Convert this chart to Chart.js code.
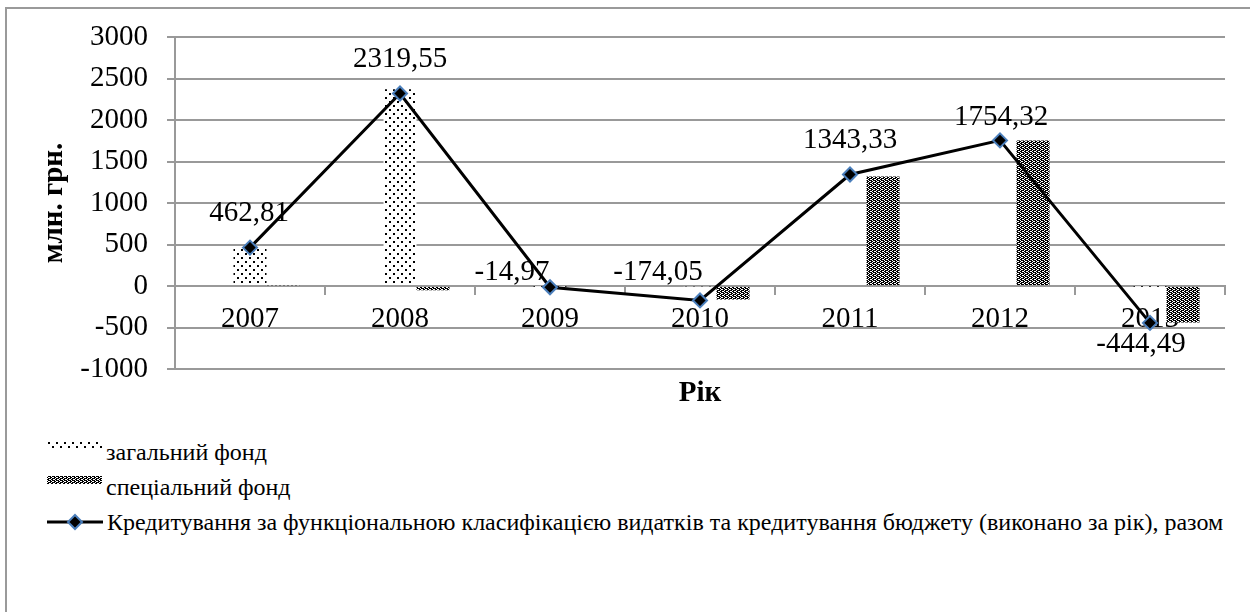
<!DOCTYPE html>
<html>
<head>
<meta charset="utf-8">
<script src="https://cdn.jsdelivr.net/npm/chart.js@4.4.1/dist/chart.umd.min.js"></script>
<style>
    html, body { margin: 0; padding: 0; background: #fff; }
    body { width: 1250px; height: 612px; position: relative; overflow: hidden; font-family: "Liberation Serif", "Times New Roman", "DejaVu Serif", serif; }
    #frame { position: absolute; left: 5px; top: 7px; width: 1300px; height: 700px; border-left: 2px solid #9a9a9a; border-top: 2px solid #9a9a9a; }
    #chartBox { position: absolute; left: 0; top: 0; width: 1250px; height: 410px; }
    .item { position: absolute; left: 47px; height: 30px; display: flex; align-items: center; font-size: 24px; color: #000; white-space: nowrap; }
    .item canvas { margin-right: 4px; }
</style>
</head>
<body>
<div id="frame"></div>
<div id="chartBox"><canvas id="fundChart" width="1250" height="410"></canvas></div>
<div id="legend"></div>

<script>
// data
const years = ["2007", "2008", "2009", "2010", "2011", "2012", "2013"];
const generalFund = [455, 2370, -2, -10, 24, 0, -3];
const specialFund = [8, -50, -13, -164, 1319, 1754, -441];
const totalFund = [462.81, 2319.55, -14.97, -174.05, 1343.33, 1754.32, -444.49];
const seriesNames = [
    "загальний фонд",
    "спеціальний фонд",
    "Кредитування за функціональною класифікацією видатків та кредитування бюджету (виконано за рік), разом"
];
const yMin = -1000;
const yMax = 3000;
const yStep = 500;

// where the value labels sit relative to their marker (dx, dy)
const labelShift = [[-1, -34], [0, -34], [-38, -15], [-42, -28], [0, -34], [1, -23], [-9, 21]];

const serif = "'Liberation Serif', 'Times New Roman', 'DejaVu Serif', serif";
const gridGray = "#999999";
const markerBlue = "#4a7ebb";

function makePattern(kind) {
    const tile = document.createElement("canvas");
    const c = tile.getContext("2d");
    if (kind === "dots") {
        tile.width = 8; tile.height = 8;
        c.fillStyle = "#fff"; c.fillRect(0, 0, 8, 8);
        c.fillStyle = "#000";
        c.fillRect(1, 1, 2, 2);
        c.fillRect(5, 5, 2, 2);
    } else {
        tile.width = 4; tile.height = 4;
        c.fillStyle = "#000"; c.fillRect(0, 0, 4, 4);
        c.fillStyle = "#fff";
        c.fillRect(0, 0, 1, 1);
        c.fillRect(2, 1, 1, 1);
        c.fillRect(0, 2, 1, 1);
        c.fillRect(2, 3, 1, 1);
        c.fillRect(1, 1, 1, 1);
        c.fillRect(3, 3, 1, 1);
    }
    return c.createPattern(tile, "repeat");
}

const dotsFill = makePattern("dots");
const weaveFill = makePattern("weave");

function fmt(v) {
    return v.toFixed(2).replace(".", ",");
}

const totalLabels = {
    id: "totalLabels",
    afterDatasetsDraw(chart) {
        const meta = chart.getDatasetMeta(3);
        const ctx = chart.ctx;
        ctx.save();
        ctx.font = "29px " + serif;
        ctx.fillStyle = "#000";
        ctx.textAlign = "center";
        ctx.textBaseline = "middle";
        meta.data.forEach((pt, i) => {
            ctx.fillText(fmt(totalFund[i]), pt.x + labelShift[i][0], pt.y + labelShift[i][1]);
        });
        ctx.restore();
    }
};

const ctx = document.getElementById("fundChart").getContext("2d");
new Chart(ctx, {
    type: "bar",
    data: {
        labels: years,
        datasets: [
            // empty slot so the general fund bar sits on the category centre
            { data: years.map(() => null), order: 1, categoryPercentage: 0.66, barPercentage: 1 },
            { label: seriesNames[0], data: generalFund, backgroundColor: dotsFill, order: 1, categoryPercentage: 0.66, barPercentage: 1 },
            { label: seriesNames[1], data: specialFund, backgroundColor: weaveFill, order: 1, categoryPercentage: 0.66, barPercentage: 1 },
            {
                type: "line",
                label: seriesNames[2],
                data: totalFund,
                order: 0,
                borderColor: "#000",
                borderWidth: 3,
                pointStyle: "rectRot",
                pointRadius: 7,
                pointBackgroundColor: "#000",
                pointBorderColor: markerBlue,
                pointBorderWidth: 2,
                tension: 0
            }
        ]
    },
    options: {
        responsive: false,
        animation: false,
        devicePixelRatio: 1,
        layout: { padding: { top: 37, right: 25, bottom: 41, left: 0 } },
        plugins: {
            legend: { display: false },
            tooltip: { enabled: false }
        },
        scales: {
            x: {
                position: { y: 0 },
                grid: { drawOnChartArea: false, drawTicks: true, tickLength: 8, color: gridGray, lineWidth: 2, offset: true },
                border: { display: true, color: gridGray, width: 2 },
                ticks: { color: "#000", padding: 8, font: { family: serif, size: 29 } },
                title: {
                    display: true,
                    text: "Рік",
                    color: "#000",
                    padding: { top: 31, bottom: 0 },
                    font: { family: serif, size: 29, weight: "bold" }
                }
            },
            y: {
                min: yMin,
                max: yMax,
                grid: { color: gridGray, lineWidth: 2, tickLength: 8 },
                border: { display: true, color: gridGray, width: 2 },
                ticks: {
                    stepSize: yStep,
                    color: "#000",
                    padding: 19,
                    font: { family: serif, size: 29 },
                    callback: function (value) { return String(value); }
                },
                title: {
                    display: true,
                    text: "млн. грн.",
                    color: "#000",
                    padding: { top: 37, bottom: 0 },
                    font: { family: serif, size: 29, weight: "bold" }
                },
                afterFit: function (scale) { scale.width = 175; }
            }
        }
    },
    plugins: [totalLabels]
});

// legend as a vertical list under the chart
const legendBox = document.getElementById("legend");
const legendTops = [437, 472, 507];
seriesNames.forEach((name, i) => {
    const item = document.createElement("div");
    item.className = "item";
    item.style.top = legendTops[i] + "px";
    const sw = document.createElement("canvas");
    const c = sw.getContext("2d");
    if (i < 2) {
        sw.width = 55; sw.height = 16;
        c.fillStyle = i === 0 ? dotsFill : weaveFill;
        c.fillRect(0, 0, 55, 8);
        sw.style.position = "relative";
        sw.style.top = "-3px";
    } else {
        sw.width = 56; sw.height = 20;
        c.strokeStyle = "#000"; c.lineWidth = 3;
        c.beginPath(); c.moveTo(0, 10); c.lineTo(56, 10); c.stroke();
        c.beginPath();
        c.moveTo(28, 3); c.lineTo(35, 10); c.lineTo(28, 17); c.lineTo(21, 10); c.closePath();
        c.fillStyle = "#000"; c.fill();
        c.strokeStyle = markerBlue; c.lineWidth = 2; c.stroke();
    }
    item.appendChild(sw);
    const txt = document.createElement("span");
    txt.textContent = name;
    item.appendChild(txt);
    legendBox.appendChild(item);
});
</script>
</body>
</html>
